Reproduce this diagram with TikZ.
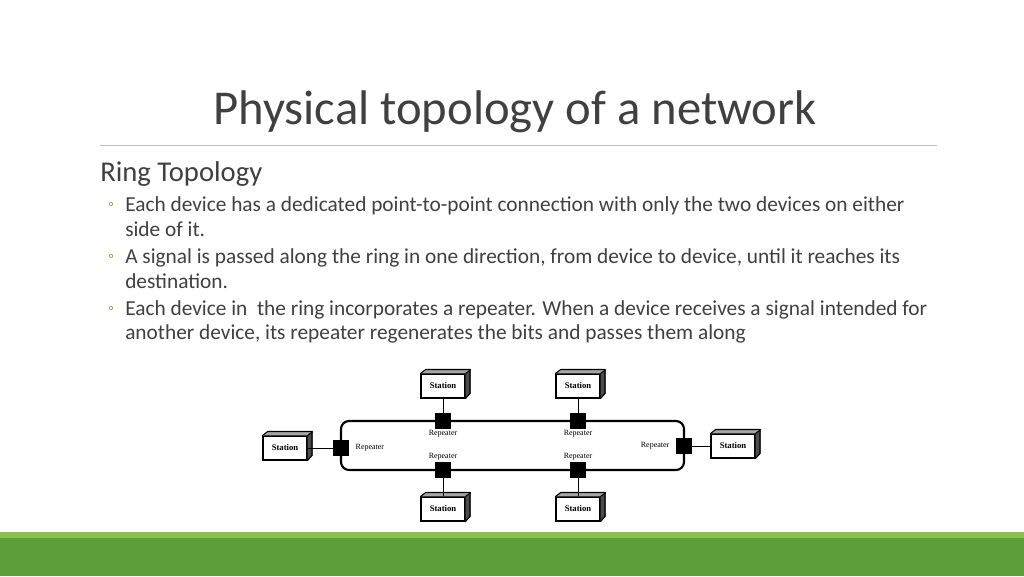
\documentclass[tikz,border=0pt]{standalone}
\usepackage{fontspec}
\setmainfont{Carlito}
\newfontfamily\labelfont{Liberation Serif}
\definecolor{titlegray}{HTML}{404040}
\definecolor{bargreen}{HTML}{5E9E3A}
\definecolor{barlight}{HTML}{8CC152}
\definecolor{bulletgreen}{HTML}{7CB342}
\tikzset{
  repeater/.style={fill=black, minimum size=12pt, inner sep=0pt},
  station/.style={draw, thick, fill=white, minimum width=33pt, minimum height=18pt, inner sep=1pt, font=\labelfont\bfseries\fontsize{6.5}{7}\selectfont},
  replabel/.style={font=\labelfont\fontsize{6}{7}\selectfont},
  bodytext/.style={anchor=west, font=\fontsize{16}{19}\selectfont, text=titlegray, inner sep=0pt},
  bulletmark/.style={anchor=west, font=\fontsize{12}{14}\selectfont, text=bulletgreen, inner sep=0pt}
}
\newcommand{\station}[2]{%
  \node[station] (#1) at #2 {Station};
  \fill[black!70] (#1.north east) -- ++(4pt,3pt) -- ++(0,-18pt) -- (#1.south east) -- cycle;
  \fill[black!35] (#1.north west) -- ++(4pt,3pt) -- ++(33pt,0) -- (#1.north east) -- cycle;
  \draw[thick] (#1.north west) -- ++(4pt,3pt) -- ++(33pt,0) -- ++(0,-18pt) -- (#1.south east);
  \draw[thick] (#1.north east) -- ++(4pt,3pt);
}
\begin{document}
\begin{tikzpicture}[x=0.75pt,y=-0.75pt]
  \useasboundingbox (0,0) rectangle (1024,576);
  \fill[white] (0,0) rectangle (1024,576);
  % 帯
  \fill[barlight] (0,532) rectangle (1024,538);
  \fill[bargreen] (0,538) rectangle (1024,576);
  % タイトル
  \node[font=\fontsize{36.5}{42}\selectfont, text=titlegray] (title) at (515,112) {Physical topology of a network};
  \draw[black!25] (100,145) -- (937,145);
  % 本文
  \node[bodytext, font=\fontsize{21.5}{25}\selectfont] (ring) at (100,174) {Ring Topology};
  \node[bulletmark] (b1) at (108,206) {◦};
  \node[bodytext] (t1) at (125,206) {Each device has a dedicated point-to-point connection with only the two devices on either};
  \node[bodytext] (t1b) at (125,229) {side of it.};
  \node[bulletmark] (b2) at (108,258) {◦};
  \node[bodytext] (t2) at (125,258) {A signal is passed along the ring in one direction, from device to device, until it reaches its};
  \node[bodytext] (t2b) at (125,281) {destination.};
  \node[bulletmark] (b3) at (108,310) {◦};
  \node[bodytext] (t3) at (125,310) {Each device in\ \ the ring incorporates a repeater. When a device receives a signal intended for};
  \node[bodytext] (t3b) at (125,334) {another device, its repeater regenerates the bits and passes them along};
  % リング
  \draw[line width=1.6pt, rounded corners=6pt] (341,421) rectangle (684,470);
  % リピータ
  \node[repeater] (r1) at (443,421) {};
  \node[repeater] (r2) at (578,421) {};
  \node[repeater] (r3) at (341,448) {};
  \node[repeater] (r4) at (684,446) {};
  \node[repeater] (r5) at (443,470) {};
  \node[repeater] (r6) at (578,470) {};
  \node[replabel] at (443,434) {Repeater};
  \node[replabel] at (578,434) {Repeater};
  \node[replabel] at (443,457) {Repeater};
  \node[replabel] at (578,457) {Repeater};
  \node[replabel, anchor=west] at (351,448) {Repeater};
  \node[replabel, anchor=east] at (674,446) {Repeater};
  % ステーション
  \station{s1}{(443,386)}
  \station{s2}{(578,386)}
  \station{s3}{(285,448)}
  \station{s4}{(733,446)}
  \station{s5}{(443,509)}
  \station{s6}{(578,509)}
  % 接続
  \draw (s1) -- (r1);
  \draw (s2) -- (r2);
  \draw (s3) -- (r3);
  \draw (s4) -- (r4);
  \draw (s5) -- (r5);
  \draw (s6) -- (r6);
\end{tikzpicture}
\end{document}
